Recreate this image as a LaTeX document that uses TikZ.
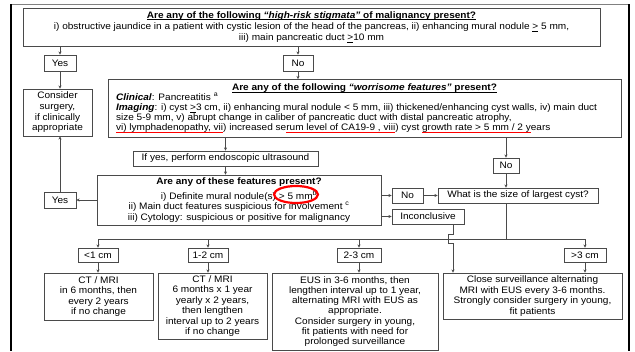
\documentclass[tikz,border=0pt]{standalone}
\usepackage{fontspec}
\setmainfont{Liberation Sans}[FakeStretch=1.07]
\usetikzlibrary{arrows.meta}
\definecolor{boxgray}{HTML}{4A4A4A}
\newsavebox\ulbox
\newcommand\redul[1]{\sbox\ulbox{#1}\rlap{\textcolor{red}{\rule[-2.6pt]{\wd\ulbox}{1.1pt}}}\usebox\ulbox}
\newcommand\blkul[1]{\sbox\ulbox{#1}\rlap{\rule[-1.7pt]{\wd\ulbox}{0.5pt}}\usebox\ulbox}

\begin{document}
\begin{tikzpicture}[x=1pt,y=-1pt,
	box/.style={draw=boxgray, line width=0.7pt, inner sep=0pt, align=center, font=\fontsize{9.4}{10.4}\selectfont},
	arr/.style={-{Stealth[length=3.2pt,width=3pt]}, draw=boxgray, line width=0.7pt},
	ln/.style={draw=boxgray, line width=0.7pt}]
		\useasboundingbox (0,0) rectangle (635,351);
		\fill[white] (0,0) rectangle (635,351);
		
		% frame
		\draw[gray, line width=1pt] (11,4.5) -- (629,4.5);
		\draw[line width=2.5pt] (11,4) -- (11,351);
		\draw[line width=2.5pt] (629,4) -- (629,351);
		
		\node[box, minimum width=577, minimum height=38, font=\fontsize{9.4}{11.2}\selectfont] (risk) at (311.5,27)
			{\textbf{\blkul{Are any of the following \textit{“high-risk stigmata”} of malignancy present?}}\\
			i) obstructive jaundice in a patient with cystic lesion of the head of the pancreas, ii) enhancing mural nodule \underline{>} 5 mm,\\
			iii) main pancreatic duct \underline{>}10 mm};
		
		\node[box, minimum width=32, minimum height=16] (yesA) at (60,63) {Yes};
		\node[box, minimum width=30, minimum height=16] (noA) at (298,63) {No};
		
		\node[box, minimum width=69, minimum height=47, font=\fontsize{9.4}{10.7}\selectfont] (surg) at (57.5,112.5)
			{Consider\\surgery,\\if clinically\\appropriate};
		
		\node[box, minimum width=513, minimum height=58, align=left, font=\fontsize{9.4}{10}\selectfont] (worry) at (364.5,108.5)
			{\makebox[497pt]{\textbf{\blkul{Are any of the following \textit{“worrisome features”} present?}}}\\
			\textbf{\textit{Clinical}}: Pancreatitis \textsuperscript{a}\\
			\textbf{\textit{Imaging}}: i) cyst \underline{>}3 cm, ii) enhancing mural nodule < 5 mm, iii) thickened/enhancing cyst walls, iv) main duct\\
			size 5-9 mm, v) abrupt change in caliber of pancreatic duct with distal pancreatic atrophy,\\
			\redul{vi) lymphadenopathy, vii}) increased se\redul{rum level of CA19-9 , viii}) cyst \redul{growth rate > 5 mm / 2 y}ears};
		
		\node[box, minimum width=185, minimum height=15] (eus) at (225.5,158.5) {If yes, perform endoscopic ultrasound};
		\node[box, minimum width=26, minimum height=15] (noB) at (506,165.5) {No};
		
		\node[box, minimum width=284, minimum height=50] (feat) at (239,200)
			{\textbf{Are any of these features present?}\\[3pt]
			i) Definite mural nodule(s) > 5 mm\textsuperscript{b}\\
			ii) Main duct features suspicious for involvement \textsuperscript{c}\\
			iii) Cytology: suspicious or positive for malignancy};
		\draw[red, line width=2.2pt] (296,194.5) ellipse [x radius=22, y radius=8.5];
		
		\node[box, minimum width=32, minimum height=16] (yesB) at (60,200) {Yes};
		\node[box, minimum width=31, minimum height=15] (noC) at (407.5,195.5) {No};
		\node[box, minimum width=160, minimum height=15] (size) at (518,195.5) {What is the size of largest cyst?};
		\node[box, minimum width=72, minimum height=15] (inc) at (428,216.5) {Inconclusive};
		
		\node[box, minimum width=40, minimum height=14] (lt1) at (98,255) {<1 cm};
		\node[box, minimum width=40, minimum height=14] (c12) at (208,255) {1-2 cm};
		\node[box, minimum width=44, minimum height=14] (c23) at (359,255) {2-3 cm};
		\node[box, minimum width=42, minimum height=14] (gt3) at (585,255) {>3 cm};
		
		\node[box, minimum width=109, minimum height=47] (ct1) at (98.5,296.5)
			{CT / MRI\\in 6 months, then\\every 2 years\\if no change};
		\node[box, minimum width=109, minimum height=66] (ct2) at (212.5,306)
			{CT / MRI\\6 months x 1 year\\yearly x 2 years,\\then lengthen\\interval up to 2 years\\if no change};
		\node[box, minimum width=166, minimum height=77, font=\fontsize{9.4}{10.1}\selectfont] (eus3) at (355,311.5)
			{EUS in 3-6 months, then\\lengthen interval up to 1 year,\\alternating MRI with EUS as\\appropriate.\\Consider surgery in young,\\fit patients with need for\\prolonged surveillance};
		\node[box, minimum width=179, minimum height=46] (close) at (532.5,296)
			{Close surveillance alternating\\MRI with EUS every 3-6 months.\\Strongly consider surgery in young,\\fit patients};
		
		\coordinate (brL) at (98,239);
		\coordinate (brR) at (585,239);
		\coordinate (hop) at (453,234);
		
		\draw[arr] (risk.south -| yesA) -- (yesA.north);
		\draw[arr] (risk.south -| noA) -- (noA.north);
		\draw[arr] (yesA.south) -- (surg.north -| yesA);
		\draw[arr] (noA.south) -- (worry.north -| noA);
		\draw[arr] (worry.south -| eus) -- (eus.north);
		\draw[arr] (eus.south) -- (feat.north -| eus);
		\draw[arr] (worry.south -| noB) -- (noB.north);
		\draw[arr] (noB.south) -- (size.north -| noB);
		\draw[arr] (feat.west) -- (yesB.east);
		\draw[arr] (yesB.north) -- (surg.south -| yesB);
		\draw[arr] (feat.east |- noC) -- (noC.west);
		\draw[arr] (noC.east) -- (size.west);
		\draw[arr] (feat.east |- inc) -- (inc.west);
		
		\draw[ln] (size.south -| noB) -- (brL -| noB);
		\draw[ln] (brL) -- (brR);
		\draw[arr] (brL) -- (lt1.north);
		\draw[arr] (brL -| c12) -- (c12.north);
		\draw[arr] (brL -| c23) -- (c23.north);
		\draw[arr] (brR) -- (gt3.north);
		
		\draw[arr] (lt1.south) -- (ct1.north -| lt1);
		\draw[arr] (c12.south) -- (ct2.north -| c12);
		\draw[arr] (c23.south) -- (eus3.north -| c23);
		\draw[arr] (gt3.south) -- (close.north -| gt3);
		
		\draw[arr] (inc.south -| hop) -- (hop) -- ++(-5,0) -- ++(0,9) -- ++(5,0) -- (close.north -| hop);
		
	\end{tikzpicture}
\end{document}
